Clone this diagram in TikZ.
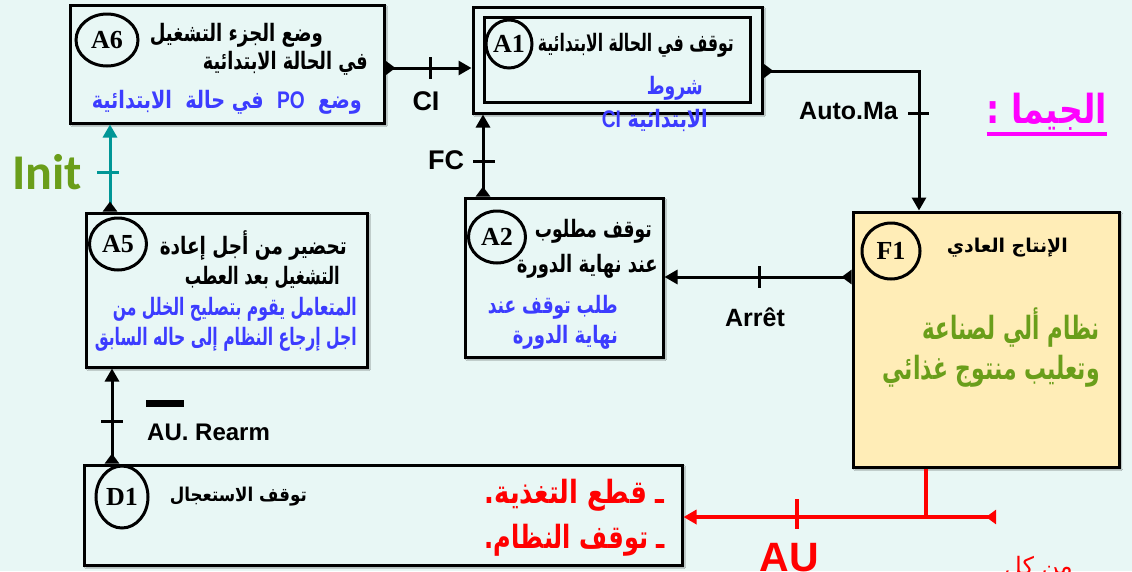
\documentclass[tikz,border=0pt]{standalone}
\usepackage{graphicx}
\usepackage{fontspec}
\usetikzlibrary{arrows.meta,shapes.geometric,shadows.blur}
\TeXXeTstate=1
\newfontfamily\arfont[Script=Arabic]{DejaVu Sans}
\newfontfamily\latfont{Liberation Sans}
\newfontfamily\serfont{Liberation Serif}
\newfontfamily\calfont{Carlito}

% squeeze a line to a given width, keeping its height
\newcommand{\fitw}[2]{\resizebox{#1}{\height}{#2}}

\definecolor{bg}{RGB}{232,247,245}
\definecolor{txtblue}{RGB}{60,60,255}
\definecolor{txtgreen}{RGB}{106,158,26}
\definecolor{initteal}{RGB}{0,150,150}
\definecolor{prodfill}{RGB}{255,237,183}
\definecolor{alarm}{RGB}{255,0,0}
\definecolor{titlemag}{RGB}{255,0,255}

\tikzset{
  box/.style={draw=black, line width=3pt, fill=bg, inner sep=0pt,
    blur shadow={shadow xshift=2pt, shadow yshift=-2pt, shadow blur steps=6, shadow opacity=35}},
  tag/.style={ellipse, draw=black, line width=3pt, inner sep=0pt,
    font=\serfont\bfseries\fontsize{26}{26}\selectfont},
  conn/.style={line width=3pt, {Triangle[reversed,length=10pt,width=14pt]}-{Triangle[length=13pt,width=14pt]}},
  tick/.style={line width=3pt},
  artxt/.style={anchor=east, inner sep=0pt, font=\arfont\bfseries\fontsize{24}{26}\selectfont},
  artxtbig/.style={artxt, font=\arfont\bfseries\fontsize{32}{34}\selectfont},
  artxtsmall/.style={artxt, font=\arfont\bfseries\fontsize{19}{22}\selectfont},
  lbl/.style={inner sep=0pt, font=\latfont\bfseries\fontsize{25}{25}\selectfont},
}

\begin{document}
\begin{tikzpicture}[x=1pt,y=-1pt]
\useasboundingbox (0,0) rectangle (1132,571);
\fill[bg] (0,0) rectangle (1132,571);

% ---- step boxes ----
\node[box, minimum width=314pt, minimum height=118pt] (A6) at (227,64) {};
\node[box, minimum width=289pt, minimum height=106pt] (A1) at (617.5,60) {};
\node[draw=black, line width=3pt, inner sep=0pt, minimum width=266pt, minimum height=85pt] (A1in) at (617,59.5) {};
\node[box, minimum width=198pt, minimum height=159pt] (A2) at (564,277.5) {};
\node[box, minimum width=281pt, minimum height=154pt] (A5) at (226.5,290) {};
\node[box, fill=prodfill, minimum width=266pt, minimum height=255pt] (F1) at (986,339.5) {};
\node[box, minimum width=598pt, minimum height=100pt] (D1) at (383,515) {};

% ---- step tags ----
\node[tag, minimum width=62pt, minimum height=52pt] (A6c) at (107,40) {A6};
\node[tag, minimum width=46pt, minimum height=48pt] (A1c) at (509,44) {A1};
\node[tag, minimum width=57pt, minimum height=52pt] (A2c) at (497,237) {A2};
\node[tag, minimum width=57pt, minimum height=52pt] (A5c) at (118,244) {A5};
\node[tag, minimum width=58pt, minimum height=56pt] (F1c) at (891,251) {F1};
\node[tag, minimum width=52pt, minimum height=62pt] (D1c) at (122,497) {D1};

% ---- texts of A6 ----
\node[artxt] (a6t1) at (323,35) {\fitw{173pt}{\beginR وضع الجزء التشغيل\endR}};
\node[artxt] (a6t2) at (368,63) {\fitw{165pt}{\beginR في الحالة الابتدائية\endR}};
\node[artxt, text=txtblue] (a6t3) at (362,102) {\fitw{270pt}{\beginR وضع \ \beginL{\latfont\bfseries PO}\endL{} \ في حالة \ الابتدائية\endR}};

% ---- texts of A1 ----
\node[artxt] (a1t1) at (734,45) {\fitw{196pt}{\beginR توقف في الحالة الابتدائية\endR}};
\node[artxt, text=txtblue] (a1t2) at (703,88) {\fitw{56pt}{\beginR شروط\endR}};
\node[artxt, text=txtblue] (a1t3) at (708,120) {\fitw{106pt}{\beginR الابتدائية \beginL{\latfont\bfseries CI}\endL{}\endR}};

% ---- texts of A2 ----
\node[artxt] (a2t1) at (652,231) {\fitw{117pt}{\beginR توقف مطلوب\endR}};
\node[artxt] (a2t2) at (658,266) {\fitw{141pt}{\beginR عند نهاية الدورة\endR}};
\node[artxt, text=txtblue] (a2t3) at (618,307) {\fitw{130pt}{\beginR طلب توقف عند\endR}};
\node[artxt, text=txtblue] (a2t4) at (618,337) {\fitw{105pt}{\beginR نهاية الدورة\endR}};

% ---- texts of A5 ----
\node[artxt] (a5t1) at (347,246) {\fitw{187pt}{\beginR تحضير من أجل إعادة\endR}};
\node[artxt] (a5t2) at (340,278) {\fitw{155pt}{\beginR التشغيل بعد العطب\endR}};
\node[artxt, text=txtblue] (a5t3) at (357,309) {\fitw{244pt}{\beginR المتعامل يقوم بتصليح الخلل من\endR}};
\node[artxt, text=txtblue] (a5t4) at (357,339) {\fitw{262pt}{\beginR اجل إرجاع النظام إلى حاله السابق\endR}};

% ---- texts of F1 ----
\node[artxtsmall] (f1t1) at (1068,248) {\fitw{121pt}{\beginR الإنتاج العادي\endR}};
\node[artxtbig, text=txtgreen] (f1t2) at (1100,328) {\fitw{177pt}{\beginR نظام ألي لصناعة\endR}};
\node[artxtbig, text=txtgreen] (f1t3) at (1100,371) {\fitw{217pt}{\beginR وتعليب منتوج غذائي\endR}};

% ---- texts of D1 ----
\node[artxtsmall] (d1t1) at (307,497) {\fitw{137pt}{\beginR توقف الاستعجال\endR}};
\node[artxtbig, text=alarm] (d1t2) at (665,495) {\fitw{180pt}{\beginR ـ قطع التغذية.\endR}};
\node[artxtbig, text=alarm] (d1t3) at (665,540) {\fitw{180pt}{\beginR ـ توقف النظام.\endR}};

% ---- title ----
\node[artxt, text=titlemag, font=\arfont\bfseries\fontsize{40}{42}\selectfont] (title) at (1107,112) {\fitw{120pt}{\beginR الجيما :\endR}};
\draw[titlemag, line width=4pt] ([yshift=-3pt]title.south west) -- ([yshift=-3pt]title.south east);

% ---- connectors ----
\draw[conn] ([yshift=-4pt]A6.east) -- ([yshift=-4pt]A6.east -| A1.west);
\draw[tick] (430,57) -- (430,79);
\node[lbl, font=\latfont\bfseries\fontsize{27}{27}\selectfont] (ci) at (426,101) {CI};

\draw[conn] ([yshift=-11pt]A1.east) -| ([xshift=-67pt]F1.north);
\draw[tick] (908,113) -- (929,113);
\node[lbl, anchor=east] (auto) at (898,111) {Auto.Ma};

\draw[conn] ([yshift=62.5pt]F1.west) -- ([yshift=62.5pt]F1.west -| A2.east);
\draw[tick] (759,266) -- (759,288);
\node[lbl] (arret) at (755,317) {Arrêt};

\draw[conn] ([xshift=-81pt]A2.north) -- ([xshift=-81pt]A2.north |- A1.south);
\draw[tick] (473,161) -- (495,161);
\node[lbl, font=\latfont\bfseries\fontsize{27}{27}\selectfont] (fc) at (446,160) {FC};

\draw[conn, initteal, {Triangle[reversed,length=10pt,width=14pt,color=black]}-{Triangle[length=13pt,width=14pt]}]
  ([xshift=-116.5pt]A5.north) -- ([xshift=-116.5pt]A5.north |- A6.south);
\draw[tick, initteal] (97,172) -- (119,172);
\node[inner sep=0pt, text=txtgreen, font=\calfont\bfseries\fontsize{50}{50}\selectfont] (init) at (47,172) {Init};

\draw[conn] ([xshift=-271pt]D1.north) -- ([xshift=-271pt]D1.north |- A5.south);
\draw[tick] (101,421) -- (123,421);
\node[lbl, anchor=west, font=\latfont\bfseries\fontsize{24}{24}\selectfont] (rearm) at (147,432) {AU. Rearm};
\draw[line width=7pt] (146,403) -- (184,403);

\coordinate (aufrom) at (996,517);
\draw[conn, alarm, line width=3.5pt] (aufrom) -- (aufrom -| D1.east);
\draw[alarm, line width=3.5pt] ([xshift=-60pt]F1.south) -- ([xshift=-60pt]F1.south |- aufrom);
\draw[tick, alarm, line width=3.5pt] (797,499) -- (797,529);
\node[inner sep=0pt, anchor=base, text=alarm, font=\latfont\bfseries\fontsize{41}{41}\selectfont] (au) at (789,571) {AU};
\node[inner sep=0pt, anchor=base east, text=alarm, font=\arfont\fontsize{24}{24}\selectfont] (mnkl) at (1073,574) {\beginR من كل\endR};
\end{tikzpicture}
\end{document}
